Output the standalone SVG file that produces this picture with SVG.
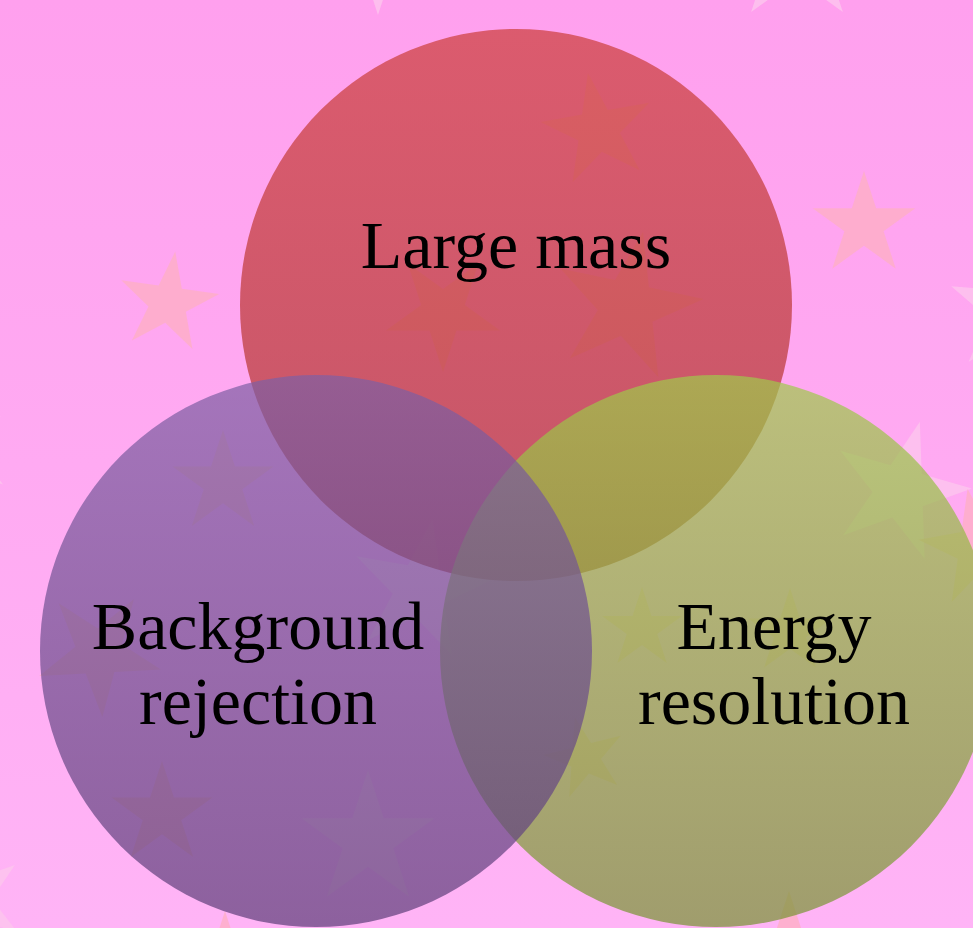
<svg xmlns="http://www.w3.org/2000/svg" xmlns:xlink="http://www.w3.org/1999/xlink" width="973" height="928" viewBox="0 0 973 928">
<style>
.lbl{font-family:"Liberation Serif","DejaVu Serif",serif;font-size:68px;fill:#000;text-anchor:middle}
.s1{fill:#feafc6;opacity:0.8}
.s2{fill:#fdc6ee;opacity:0.8}
.circ{opacity:0.7}
</style>
<defs>
<linearGradient id="bg" x1="0" y1="0" x2="0" y2="1">
<stop offset="0" stop-color="#ffa0ee"/>
<stop offset="1" stop-color="#ffb4f6"/>
</linearGradient>
<linearGradient id="gRed" x1="0" y1="0" x2="0" y2="1">
<stop offset="0" stop-color="#cc3d37"/>
<stop offset="1" stop-color="#ab312b"/>
</linearGradient>
<linearGradient id="gPur" x1="0" y1="0" x2="0" y2="1">
<stop offset="0" stop-color="#7e5fa4"/>
<stop offset="1" stop-color="#5c3d78"/>
</linearGradient>
<linearGradient id="gOli" x1="0" y1="0" x2="0" y2="1">
<stop offset="0" stop-color="#9fca4a"/>
<stop offset="1" stop-color="#779332"/>
</linearGradient>
<path id="star" d="M0,-100 L22.5,-30.9 L95.1,-30.9 L36.3,11.8 L58.8,80.9 L0,38.2 L-58.8,80.9 L-36.3,11.8 L-95.1,-30.9 L-22.5,-30.9 Z"/>
</defs>
<rect width="973" height="928" fill="url(#bg)"/>
<g id="stars">
<use href="#star" class="s1" transform="translate(168,303) rotate(8) scale(0.52)"/>
<use href="#star" class="s1" transform="translate(864,225) scale(0.54)"/>
<use href="#star" class="s1" transform="translate(598,130) rotate(-10) scale(0.58)"/>
<use href="#star" class="s1" transform="translate(443,312) rotate(180) scale(0.6)"/>
<use href="#star" class="s1" transform="translate(627,307) rotate(12) scale(0.77)"/>
<use href="#star" class="s1" transform="translate(223,483) scale(0.53)"/>
<use href="#star" class="s1" transform="translate(162,814) scale(0.53)"/>
<use href="#star" class="s2" transform="translate(368,840) scale(0.7)"/>
<use href="#star" class="s1" transform="translate(99,653) rotate(33) scale(0.64)"/>
<use href="#star" class="s2" transform="translate(420,590) rotate(10) scale(0.72)"/>
<use href="#star" class="s1" transform="translate(642,629) scale(0.42)"/>
<use href="#star" class="s1" transform="translate(790,632) scale(0.44)"/>
<use href="#star" class="s1" transform="translate(585,758) rotate(-14) scale(0.42)"/>
<use href="#star" class="s2" transform="translate(900,491) rotate(16) scale(0.72)"/>
<use href="#star" class="s1" transform="translate(978,548) rotate(-10) scale(0.6)"/>
<use href="#star" class="s2" transform="translate(1012,312) rotate(5) scale(0.66)"/>
<use href="#star" class="s2" transform="translate(378,-40) rotate(180) scale(0.55)"/>
<use href="#star" class="s2" transform="translate(797,-51) scale(0.78)"/>
<use href="#star" class="s2" transform="translate(-30,900) rotate(-20) scale(0.57)"/>
<use href="#star" class="s1" transform="translate(225,971) scale(0.6)"/>
<use href="#star" class="s1" transform="translate(789,951) scale(0.6)"/>
<use href="#star" class="s2" transform="translate(-45,452) rotate(-20) scale(0.58)"/>
</g>
<g id="connectors"></g>
<g id="node-large-mass">
<circle class="circ" cx="516" cy="305" r="276" fill="url(#gRed)"/>
<text class="lbl" x="516" y="268">Large mass</text>
</g>
<g id="node-energy-resolution">
<circle class="circ" cx="716" cy="651" r="276" fill="url(#gOli)"/>
<text class="lbl" x="774" y="649">Energy</text>
<text class="lbl" x="774" y="724">resolution</text>
</g>
<g id="node-background-rejection">
<circle class="circ" cx="316" cy="651" r="276" fill="url(#gPur)"/>
<text class="lbl" x="258" y="649">Background</text>
<text class="lbl" x="258" y="724">rejection</text>
</g>
</svg>
